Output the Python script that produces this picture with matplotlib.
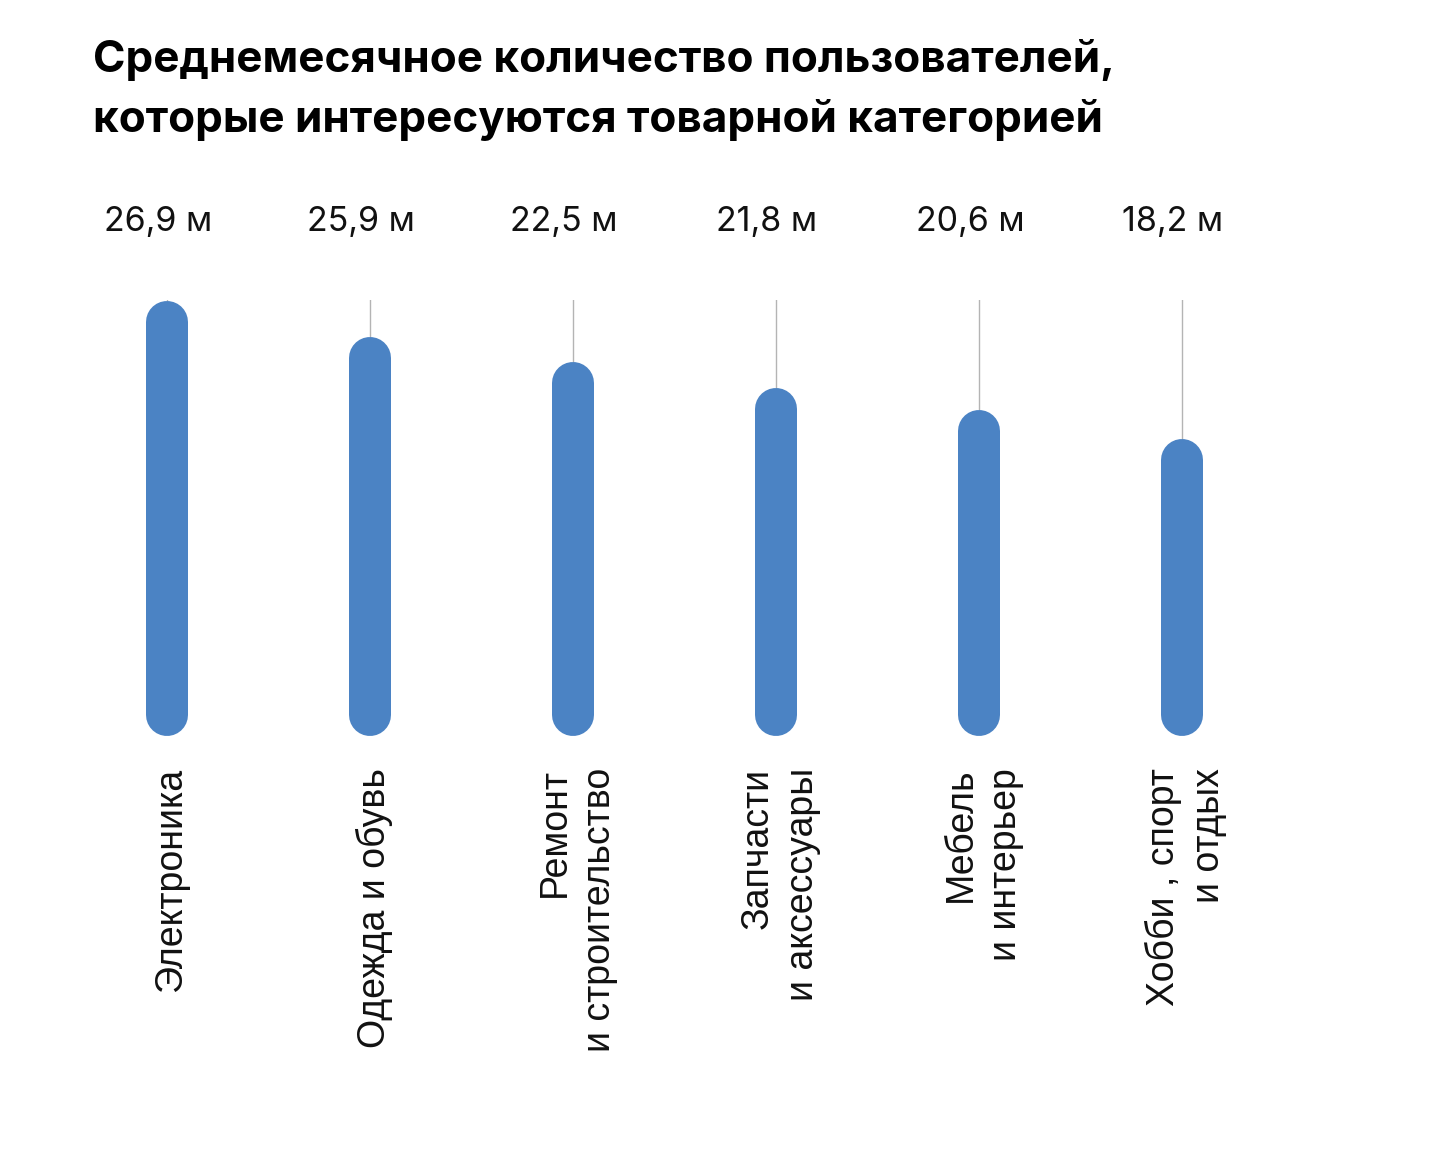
import matplotlib
matplotlib.use("Agg")
import matplotlib.pyplot as plt

plt.rcParams['font.family'] = ['Liberation Sans', 'DejaVu Sans']

title_lines = ["Среднемесячное количество пользователей,",
               "которые интересуются товарной категорией"]
categories = ["Электроника", "Одежда и обувь", "Ремонт\nи строительство",
              "Запчасти\nи аксессуары", "Мебель\nи интерьер", "Хобби , спорт\nи отдых"]
value_labels = ["26,9 м", "25,9 м", "22,5 м", "21,8 м", "20,6 м", "18,2 м"]
# bar lengths as drawn (arbitrary units)
bar_heights = [435, 399, 374, 348, 326, 297]

bar_color = "#4b83c4"
guide_color = "#b4b4b4"

W, H = 1430, 1168
fig = plt.figure(figsize=(W / 100, H / 100), dpi=100)
ax = fig.add_axes([0, (H - 736) / H, 1, 436 / H])
ax.set_xlim(-167 / 203, (W - 167) / 203)
ax.set_ylim(0, 436)
ax.axis("off")

r = 21  # cap radius in data units (= px here)
lw = 42 * 72 / 100
for i, h in enumerate(bar_heights):
    # thin guide line from the top down to the bar
    ax.plot([i, i], [h - 2, 436], color=guide_color, lw=1.0, zorder=1)
    ax.plot([i, i], [r, h - r], color=bar_color, lw=lw,
            solid_capstyle="round", zorder=2)
    ax.text(i - 9 / 203, 736 - 231, value_labels[i], ha="center", va="baseline",
            fontsize=24.5, family=["Inter", "DejaVu Sans"], color="#111111", clip_on=False)
    ax.text(i + 4 / 203, -32, categories[i], rotation=90, ha="center", va="top",
            multialignment="right", linespacing=1.33, fontsize=27,
            color="#111111", clip_on=False)

for k, line in enumerate(title_lines):
    fig.text(93 / W, 1 - (72 + 60 * k) / H, line, ha="left", va="baseline",
             fontsize=31.7, fontweight="bold", family=["Inter", "DejaVu Sans"],
             color="#000000")

fig.savefig("out.png", dpi=100, facecolor="white")
